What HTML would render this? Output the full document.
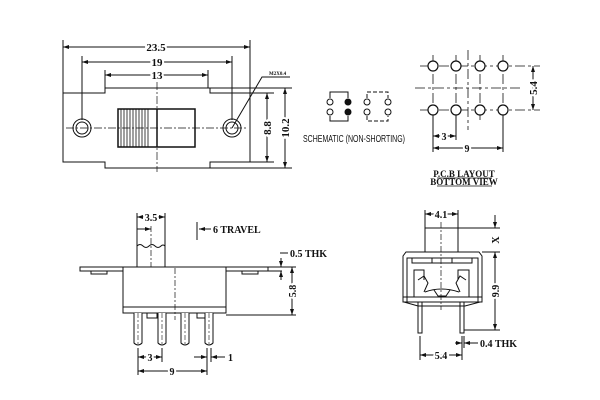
<!DOCTYPE html>
<html><head><meta charset="utf-8"><style>
html,body{margin:0;padding:0;background:#fff}
svg{display:block}
text{font-family:"Liberation Serif",serif;fill:#111}
.s{font-family:"Liberation Sans",sans-serif}
</style></head><body>
<svg width="600" height="400" viewBox="0 0 600 400" xmlns="http://www.w3.org/2000/svg">
<defs><marker id="a" markerWidth="6" markerHeight="6" refX="6" refY="3" orient="auto-start-reverse"><path d="M0,1 L6,3 L0,5z" fill="#111"/></marker></defs>
<g stroke="#111" stroke-width="1" fill="none">
<path d="M63,93 H105 V88 H210 V93 H250 V162 H210 V168 H105 V162 H63 Z"/>
<line x1="63" y1="40" x2="63" y2="93"/><line x1="250" y1="40" x2="250" y2="93"/>
<line x1="82" y1="56" x2="82" y2="120"/><line x1="232" y1="56" x2="232" y2="120"/>
<line x1="105" y1="70" x2="105" y2="88"/><line x1="208" y1="70" x2="208" y2="88"/>
<line x1="63" y1="47" x2="250" y2="47" marker-start="url(#a)" marker-end="url(#a)"/>
<line x1="82" y1="62" x2="232" y2="62" marker-start="url(#a)" marker-end="url(#a)"/>
<line x1="105" y1="75" x2="208" y2="75" marker-start="url(#a)" marker-end="url(#a)"/>
<circle cx="82" cy="128" r="9"/><circle cx="82" cy="128" r="6"/>
<circle cx="232" cy="128" r="9"/><circle cx="232" cy="128" r="6"/>
<rect x="118" y="109" width="77" height="38" stroke-width="1.5"/>
<path d="M121,109V147M124,109V147M127,109V147M130,109V147M133,109V147M136,109V147M139,109V147M142,109V147M145,109V147M148,109V147" stroke-width="0.8"/>
<line x1="157" y1="109" x2="157" y2="147" stroke-width="1.5"/>
<line x1="157" y1="82" x2="157" y2="172" stroke-dasharray="8,2,2,2" stroke-width="0.7"/>
<line x1="66" y1="128" x2="248" y2="128" stroke-dasharray="8,2,2,2" stroke-width="0.7"/>
<path d="M232,128 L262,77 H290"/>
<line x1="210" y1="88" x2="292" y2="88"/><line x1="210" y1="168" x2="292" y2="168"/>
<line x1="250" y1="93" x2="274" y2="93"/><line x1="250" y1="162" x2="274" y2="162"/>
<line x1="267" y1="93" x2="267" y2="162" marker-start="url(#a)" marker-end="url(#a)"/>
<line x1="285" y1="88" x2="285" y2="168" marker-start="url(#a)" marker-end="url(#a)"/>
<path d="M330,98 V92 H348 V98 M330,116 V121 H348 V116"/>
<path d="M367,98 V92 H388 V98 M367,116 V121 H388 V116" stroke-dasharray="4,2"/>
<circle cx="330" cy="102" r="3"/><circle cx="330" cy="112" r="3"/>
<circle cx="348" cy="102" r="3" fill="#111"/><circle cx="348" cy="112" r="3" fill="#111"/>
<circle cx="367" cy="102" r="3"/><circle cx="367" cy="112" r="3"/>
<circle cx="388" cy="102" r="3"/><circle cx="388" cy="112" r="3"/>
<g stroke-dasharray="10,3,3,3" stroke-width="0.8">
<line x1="420" y1="66" x2="540" y2="66"/><line x1="420" y1="110" x2="540" y2="110"/>
<line x1="415" y1="88" x2="522" y2="88"/><line x1="468" y1="50" x2="468" y2="130"/>
<line x1="433" y1="55" x2="433" y2="120"/><line x1="456" y1="55" x2="456" y2="120"/>
<line x1="480" y1="55" x2="480" y2="120"/><line x1="503" y1="55" x2="503" y2="120"/>
</g>
<g stroke-width="1.2">
<circle cx="433" cy="66" r="5" fill="#fff"/><circle cx="456" cy="66" r="5" fill="#fff"/><circle cx="480" cy="66" r="5" fill="#fff"/><circle cx="503" cy="66" r="5" fill="#fff"/>
<circle cx="433" cy="110" r="5" fill="#fff"/><circle cx="456" cy="110" r="5" fill="#fff"/><circle cx="480" cy="110" r="5" fill="#fff"/><circle cx="503" cy="110" r="5" fill="#fff"/>
</g>
<line x1="533" y1="66" x2="533" y2="110" marker-start="url(#a)" marker-end="url(#a)"/>
<line x1="433" y1="115" x2="433" y2="152"/><line x1="456" y1="115" x2="456" y2="140"/><line x1="503" y1="115" x2="503" y2="152"/>
<line x1="433" y1="136" x2="456" y2="136" marker-start="url(#a)" marker-end="url(#a)"/>
<line x1="433" y1="148" x2="503" y2="148" marker-start="url(#a)" marker-end="url(#a)"/>
<line x1="437" y1="178" x2="492" y2="178" stroke-width="0.7"/><line x1="437" y1="186" x2="492" y2="186" stroke-width="0.7"/>
<rect x="80" y="267" width="188" height="4"/>
<rect x="91" y="271" width="16" height="3"/><rect x="242" y="271" width="16" height="3"/>
<rect x="123" y="267" width="103" height="46" fill="#fff"/>
<path d="M137,267 V246 q3,-3 6,0 q3,3 6,0 q3,-3 6,0 q3,3 6,0 q2,-2 4,0 V267"/>
<line x1="151" y1="226" x2="151" y2="267" stroke-dasharray="6,2,2,2" stroke-width="0.7"/>
<line x1="175" y1="268" x2="175" y2="320" stroke-dasharray="6,2,2,2" stroke-width="0.7"/>
<path d="M123,307 H226 M123,313 H147 V318 H157 V313 H197 V318 H205 V313 H226"/>
<path d="M137,213 V246 M165,213 V246"/>
<line x1="137" y1="217" x2="165" y2="217" marker-start="url(#a)" marker-end="url(#a)"/>
<line x1="137" y1="229" x2="151" y2="229" marker-end="url(#a)"/>
<line x1="197" y1="222" x2="197" y2="240"/>
<line x1="211" y1="229" x2="199" y2="229" marker-end="url(#a)"/>
<g fill="#fff">
<path d="M134,313 V343 q4,4 8,0 V313"/><path d="M158,313 V343 q4,4 8,0 V313"/>
<path d="M181,313 V343 q4,4 8,0 V313"/><path d="M205,313 V343 q4,4 8,0 V313"/>
</g>
<g stroke-dasharray="5,2,2,2" stroke-width="0.6"><line x1="138" y1="313" x2="138" y2="345"/><line x1="162" y1="313" x2="162" y2="345"/><line x1="185" y1="313" x2="185" y2="345"/><line x1="209" y1="313" x2="209" y2="345"/></g>
<line x1="138" y1="348" x2="138" y2="375"/><line x1="162" y1="348" x2="162" y2="362"/>
<line x1="207" y1="348" x2="207" y2="375"/><line x1="211" y1="348" x2="211" y2="362"/>
<line x1="138" y1="357" x2="162" y2="357" marker-start="url(#a)" marker-end="url(#a)"/>
<line x1="138" y1="371" x2="207" y2="371" marker-start="url(#a)" marker-end="url(#a)"/>
<line x1="194" y1="357" x2="207" y2="357" marker-end="url(#a)"/><line x1="225" y1="357" x2="211" y2="357" marker-end="url(#a)"/>
<line x1="268" y1="267" x2="296" y2="267"/><line x1="268" y1="271" x2="282" y2="271"/>
<path d="M280,253 H288 M281,258 V267" marker-end="url(#a)"/><line x1="281" y1="280" x2="281" y2="271" marker-end="url(#a)"/>
<line x1="226" y1="315" x2="296" y2="315"/>
<line x1="292" y1="267" x2="292" y2="315" marker-start="url(#a)" marker-end="url(#a)"/>
<rect x="425" y="228" width="33" height="24"/>
<line x1="425" y1="210" x2="425" y2="228"/><line x1="458" y1="210" x2="458" y2="228"/>
<line x1="425" y1="214" x2="458" y2="214" marker-start="url(#a)" marker-end="url(#a)"/>
<line x1="441" y1="222" x2="441" y2="310" stroke-dasharray="6,2,2,2" stroke-width="0.7"/>
<path d="M403,302 V256 L406,252 H479 L482,256 V302 Z" fill="none"/>
<path d="M407,302 V258 H478 V302"/>
<path d="M412,258 V263 H432 M452,263 H472 V258 M432,258 V263 H452 V258"/>
<path d="M414,297 V270 H424 V280 M469,297 V270 H458 V280"/>
<path d="M418,280 L424,276 L428,283 L424,292 M466,280 L460,276 L456,283 L460,292 M425,292 Q441,286 459,292 M434,290 L438,296 H446 L450,290"/>
<path d="M403,297 H482 M404,302 L418,306 H465 L480,302"/>
<rect x="418" y="302" width="4" height="31"/><rect x="460" y="302" width="4" height="31"/>
<line x1="458" y1="228" x2="500" y2="228"/><line x1="482" y1="252" x2="500" y2="252"/>
<line x1="495" y1="215" x2="495" y2="228" marker-end="url(#a)"/>
<line x1="495" y1="252" x2="495" y2="330" marker-start="url(#a)" marker-end="url(#a)"/>
<line x1="464" y1="330" x2="500" y2="330"/>
<line x1="420" y1="336" x2="420" y2="360"/><line x1="462" y1="336" x2="462" y2="360"/><line x1="464" y1="336" x2="464" y2="348"/>
<line x1="420" y1="355" x2="462" y2="355" marker-start="url(#a)" marker-end="url(#a)"/>
<line x1="455" y1="343" x2="462" y2="343" marker-end="url(#a)"/><line x1="478" y1="343" x2="464" y2="343" marker-end="url(#a)"/>
</g>
<g font-weight="bold" style="font-size:10px">
<text x="156" y="51" text-anchor="middle" style="font-size:11px;paint-order:stroke" stroke="#fff" stroke-width="4">23.5</text>
<text x="157" y="66" text-anchor="middle" style="font-size:11px;paint-order:stroke" stroke="#fff" stroke-width="4">19</text>
<text x="157" y="79" text-anchor="middle" style="font-size:11px;paint-order:stroke" stroke="#fff" stroke-width="4">13</text>
<text x="269" y="75" style="font-size:5px">M2X0.4</text>
<text transform="translate(271,128) rotate(-90)" text-anchor="middle" style="font-size:11px;paint-order:stroke" stroke="#fff" stroke-width="4">8.8</text>
<text transform="translate(289,128) rotate(-90)" text-anchor="middle" style="font-size:11px;paint-order:stroke" stroke="#fff" stroke-width="4">10.2</text>
<text transform="translate(537,88) rotate(-90)" text-anchor="middle" style="font-size:11px;paint-order:stroke" stroke="#fff" stroke-width="4">5.4</text>
<text x="444" y="140" text-anchor="middle" style="paint-order:stroke" stroke="#fff" stroke-width="4">3</text>
<text x="467" y="152" text-anchor="middle" style="paint-order:stroke" stroke="#fff" stroke-width="4">9</text>
<text x="464" y="177" text-anchor="middle" style="font-size:9px">P.C.B  LAYOUT</text>
<text x="464" y="185" text-anchor="middle" style="font-size:9px">BOTTOM  VIEW</text>
<text x="151" y="221" text-anchor="middle" style="paint-order:stroke" stroke="#fff" stroke-width="4">3.5</text>
<text x="213" y="233">6  TRAVEL</text>
<text x="290" y="257">0.5  THK</text>
<text transform="translate(296,291) rotate(-90)" text-anchor="middle" style="paint-order:stroke" stroke="#fff" stroke-width="4">5.8</text>
<text x="150" y="361" text-anchor="middle" style="paint-order:stroke" stroke="#fff" stroke-width="4">3</text>
<text x="172" y="375" text-anchor="middle" style="paint-order:stroke" stroke="#fff" stroke-width="4">9</text>
<text x="228" y="361">1</text>
<text x="441" y="218" text-anchor="middle" style="paint-order:stroke" stroke="#fff" stroke-width="4">4.1</text>
<text transform="translate(499,240) rotate(-90)" text-anchor="middle">X</text>
<text transform="translate(499,291) rotate(-90)" text-anchor="middle" style="paint-order:stroke" stroke="#fff" stroke-width="4">9.9</text>
<text x="480" y="347">0.4  THK</text>
<text x="441" y="359" text-anchor="middle" style="paint-order:stroke" stroke="#fff" stroke-width="4">5.4</text>
</g>
<text class="s" x="354" y="142" text-anchor="middle" style="font-size:10px" textLength="102" lengthAdjust="spacingAndGlyphs">SCHEMATIC (NON-SHORTING)</text>
</svg>
</body></html>
